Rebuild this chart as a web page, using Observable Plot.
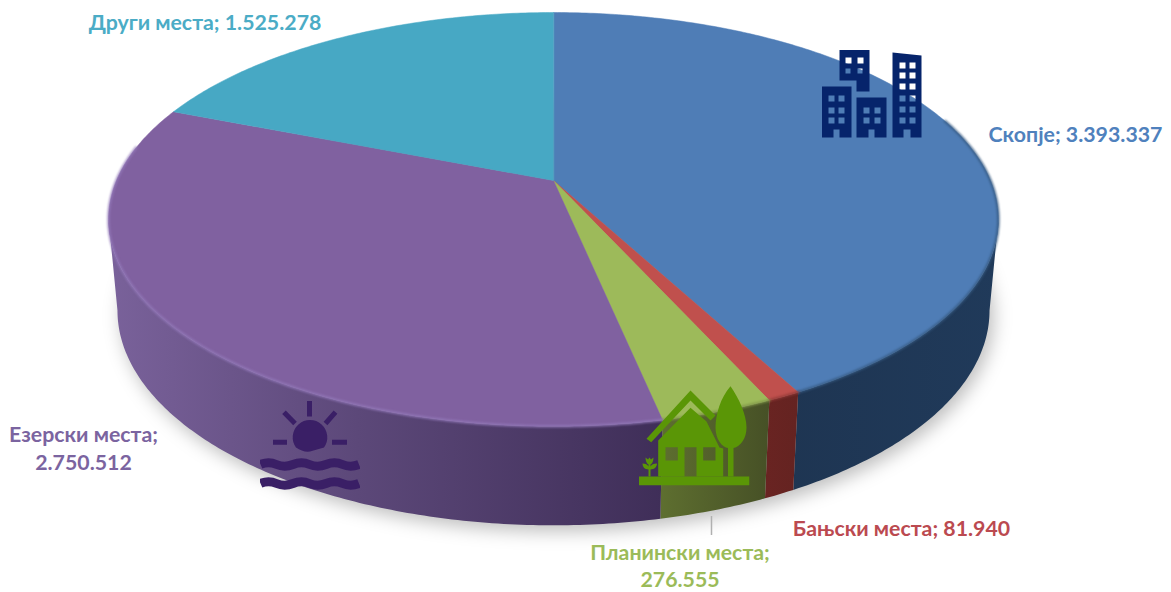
<!DOCTYPE html>
<html><head><meta charset="utf-8">
<script src="https://cdn.jsdelivr.net/npm/d3@7"></script>
<script src="https://cdn.jsdelivr.net/npm/@observablehq/plot@0.6"></script>
<style>html,body{margin:0;padding:0;background:#fff;overflow:hidden}svg{display:block}</style>
</head><body><div id="chart"></div>
<script>
const names = ["Скопје", "Бањски места", "Планински места", "Езерски места", "Други места"];
const values = [3393337, 81940, 276555, 2750512, 1525278];
const topColors = ["#4f7db6", "#c0504d", "#9dba5a", "#8061a0", "#47a8c4"];
const rimColors = ["#35587f", "#8f3836", "#7f9448", "#9278b8", "#47a8c4"];
const textColors = ["#4f81bd", "#bb4a50", "#9bbb59", "#7b64a0", "#4bacc6"];

const fmt = v => String(v).replace(/\B(?=(\d{3})+$)/g, ".");

// perspective disc model
const W = 1171, H = 592, cx = 553, cy = 180, k = 0.188, a = 437, b = 199.6;
const topPt = t => { const u = Math.sin(t), v = Math.cos(t), w = 1 + k * v;
  return [cx + a * u / w, cy - b * v / w]; };
const botPt = t => { const [x, y] = topPt(t);
  return [cx + (x - cx) * 0.98, 310 + (y - 219) * 215 / 207]; };
const arcs = d3.pie().sort(null).value(d => d)(values);
const arc = (p, s, e) => { const n = Math.max(2, Math.ceil((e - s) * 90));
  return d3.range(n + 1).map(i => p(s + (e - s) * i / n)); };

// the visible front of the wall runs between the two silhouette angles
const frontStart = Math.PI - Math.acos(k), frontEnd = Math.PI + Math.acos(k);
const clip = (d, lo, hi) => [Math.max(d.startAngle, lo), Math.min(d.endAngle, hi)];

const topPoly = d => [[cx, cy], ...arc(topPt, d.startAngle, d.endAngle)];
const wallPoly = d => { const [s, e] = clip(d, frontStart, frontEnd);
  return e > s ? [...arc(topPt, s, e), ...arc(botPt, s, e).reverse()] : []; };
const rimLine = d => { const [s, e] = clip(d, 1.25, 2 * Math.PI - 1.4);
  return e > s ? arc(topPt, s, e) : []; };
const wholeBottom = arc(botPt, 0, 2 * Math.PI);

const defs = () => {
  const s = d3.create("svg:defs");
  const grad = (id, x1, x2, stops) => {
    const g = s.append("linearGradient").attr("id", id).attr("gradientUnits", "userSpaceOnUse")
      .attr("x1", x1).attr("x2", x2).attr("y1", 0).attr("y2", 0);
    stops.forEach(([o, c]) => g.append("stop").attr("offset", o).attr("stop-color", c));
  };
  grad("w0", 780, 1000, [[0, "#1e3552"], [1, "#203a5a"]]);
  grad("w1", 760, 800, [[0, "#6a2422"], [1, "#642321"]]);
  grad("w2", 655, 770, [[0, "#5f7030"], [1, "#465026"]]);
  grad("w3", 105, 665, [[0, "#7a629b"], [.45, "#5c4879"], [1, "#3f2e58"]]);
  return s.node();
};

const svgUri = (vb, body) => "data:image/svg+xml;utf8," + encodeURIComponent(
  `<svg xmlns="http://www.w3.org/2000/svg" viewBox="${vb}">${body}</svg>`);
const win = (x, y, w = 6, h = 6) => `M${x} ${y}h${w}v${h}h${-w}z`;
const cityIcon = svgUri("0 0 101 89", `<path fill-rule="evenodd" fill="#06246b" d="
M18 0h30v42h-13v-11H18z ${win(24, 8)} ${win(36, 8)} ${win(24, 19, 5, 5)} ${win(36, 19, 5, 5)}
M0 37h30v51H18V80h-6v8H0z ${win(7, 46)} ${win(17, 46)} ${win(7, 58)} ${win(17, 58)} ${win(7, 68)} ${win(17, 68)}
M35 48h30v40H53V80h-6v8H35z ${win(42, 58)} ${win(53, 58)} ${win(42, 68)} ${win(53, 68)}
M71 3l29 3v82H89V80h-7v8H71z ${win(78, 13)} ${win(88, 13)} ${win(78, 23)} ${win(88, 23)} ${win(78, 34)} ${win(88, 34)} ${win(78, 46)} ${win(88, 46)} ${win(78, 57)} ${win(88, 57)} ${win(78, 68)} ${win(88, 68)}"/>`);
const homeIcon = svgUri("0 0 111 100", `<g fill="#5a9606">
<rect x="0" y="91" width="111" height="9"/>
<path d="M8 53.300L52 5 77 30 72 35 52 15 12.700 56.700z"/>
<path fill-rule="evenodd" d="M19.700 55L52 22.300 68 36 76 52 81 62 84.700 63V91H19.700z M27 61.700v13.300h12.300V61.700z M46 61.700V91h12V61.700z M64.700 61.700v13.300h12.300V61.700z"/>
<path d="M92 .7C82 12 77 29 77 42C77 54 84 62 89.500 62.500V91H95V62.500C102 61 108 53 108 42C108 29 100 12 92 .7z"/>
<path d="M10 91V84C6 84 4 81 4 78C7 78 9 79 10 81V79C8 78 7 75 7 72L9.500 74 11 72 12.500 74 15 72C15 75 14 78 12 79V81C13 79 15 78 18.500 78C18.500 81 16 84 12 84V91z"/>
</g>`);
const sunIcon = svgUri("0 0 100 92", `<g fill="#3a1f66" stroke="#3a1f66">
<path stroke="none" d="M36 47A17.300 17.300 0 1 1 64 47Q57 49 50 51Q43 52 36 47z"/>
<g stroke-width="5" fill="none"><path d="M49.500 0V16M24 11.700L35 23M75.500 11.700L65.500 23M13 41.700H27M72 41.700H87"/></g>
<g stroke-width="9" fill="none"><path d="M0.500 64q8-3.500 16 0t16.500 0 16.500 0 16.500 0 16.500 0 16.500 0"/><path d="M0.500 83q8-3.500 16 0t16.500 0 16.500 0 16.500 0 16.500 0 16.500 0"/></g>
</g>`);

const labels = names.map((n, i) => ({name: n, value: values[i], color: textColors[i]}));
const oneLine = d => `${d.name}; ${fmt(d.value)}`;
const twoLines = d => `${d.name};\n${fmt(d.value)}`;
const labelLayout = [
  {x: 1075, y: 133, text: oneLine},
  {x: 901, y: 527, text: oneLine},
  {x: 679.500, y: 564, text: twoLines},
  {x: 83, y: 446.500, text: twoLines},
  {x: 204.500, y: 21, text: oneLine}
];

const polyMark = (pts, fill, extra = {}) => Plot.line(pts, {x: d => d[0], y: d => d[1], fill, stroke: "none", curve: "linear-closed", ...extra});

const marks = [
  defs,
  polyMark(wholeBottom.map(([x, y]) => [x + 4, y + 6]), "#000", {fillOpacity: 0.26, imageFilter: "blur(9px)"}),
  ...arcs.map((d, i) => polyMark(wallPoly(d), `url(#w${i})`)),
  ...arcs.map((d, i) => polyMark(topPoly(d), topColors[i], {stroke: topColors[i], strokeWidth: 0.5})),
  ...arcs.map((d, i) => Plot.line(rimLine(d), {x: d => d[0], y: d => d[1], stroke: rimColors[i], strokeWidth: 2.5, strokeOpacity: 0.85, imageFilter: "blur(1.2px)"})),
  Plot.image([0], {x: () => 871.5, y: () => 93.5, width: 101, height: 89, src: () => cityIcon}),
  Plot.image([0], {x: () => 693.5, y: () => 435, width: 111, height: 100, src: () => homeIcon}),
  Plot.image([0], {x: () => 309.5, y: () => 446, width: 100, height: 92, src: () => sunIcon}),
  Plot.ruleX([711], {y1: 516, y2: 535, stroke: "#b0b0b0", strokeWidth: 1.5}),
  ...labels.map((d, i) => Plot.text([d], {
    x: () => labelLayout[i].x, y: () => labelLayout[i].y, text: labelLayout[i].text,
    fill: "color", fontWeight: 700, fontSize: 21.3, fontFamily: "Lato, 'Open Sans', sans-serif", lineHeight: 1.3, textAnchor: "middle"
  }))
];

const chart = Plot.plot({
  width: W, height: H, margin: 0,
  x: {domain: [0, W], range: [0, W], axis: null},
  y: {domain: [0, H], range: [0, H], axis: null},
  style: {background: "#fff"},
  marks
});
document.getElementById("chart").append(chart);
</script></body></html>
